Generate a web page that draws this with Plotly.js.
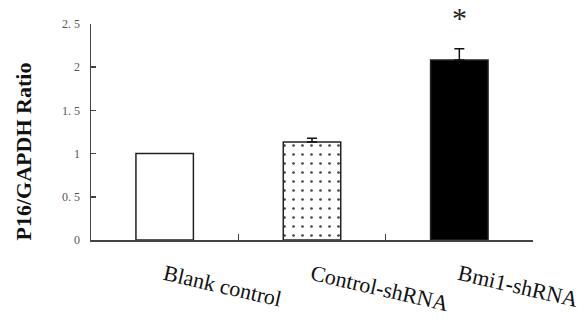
<!DOCTYPE html>
<html><head><meta charset="utf-8">
<script src="https://cdn.plot.ly/plotly-3.0.1.min.js"></script>
<style>body{margin:0;background:#fff}#c{width:587px;height:320px}</style>
</head><body><div id="c"></div>
<script>
const categories = ["Blank control", "Control-shRNA", "Bmi1-shRNA"];
const ratios = [1.0, 1.134, 2.083];
const errorsPlus = [null, 0.045, 0.13];
const tickValues = [0, 0.5, 1, 1.5, 2, 2.5];
const tickLabels = ["0", "0.\u00a05", "1", "1.\u00a05", "2", "2.\u00a05"];
const yTitle = "P16/GAPDH Ratio";
const significance = "*";

const fills = ["#ffffff", "#ffffff", "#000000"];
const patterns = ["", ".", ""];

const traces = categories.map((c, i) => {
  const marker = {color: fills[i], line: {color: "#222", width: 1.5}};
  if (patterns[i]) marker.pattern = {shape: patterns[i], size: 9, solidity: 0.07, fgcolor: "#444", bgcolor: fills[i]};
  const t = {
    type: "bar", x: [c], y: [ratios[i]], width: 0.39, marker: marker, hoverinfo: "skip"
  };
  if (errorsPlus[i] != null) {
    t.error_y = {type: "data", symmetric: false, array: [errorsPlus[i]], arrayminus: [0], color: "#111", thickness: 1.5, width: 5};
  }
  return t;
});

const layout = {
  width: 587, height: 320,
  margin: {l: 91, r: 54, t: 24, b: 80},
  paper_bgcolor: "#fff", plot_bgcolor: "#fff",
  showlegend: false,
  barmode: "overlay",
  xaxis: {
    type: "category",
    categoryarray: categories, categoryorder: "array",
    range: [-0.5, 2.5],
    showline: true, linecolor: "#444", linewidth: 1.5,
    ticks: "inside", ticklen: 6, tickwidth: 1.5, tickcolor: "#444",
    tickson: "boundaries",
    tickangle: 13,
    ticklabelstandoff: 12,
    tickfont: {family: "Liberation Serif", size: 22, color: "#111"},
    showgrid: false, zeroline: false
  },
  yaxis: {
    range: [0, 2.5],
    showline: true, linecolor: "#444", linewidth: 1.5,
    ticks: "inside", ticklen: 5, tickwidth: 1.5, tickcolor: "#444",
    tickvals: tickValues, ticktext: tickLabels,
    tickfont: {family: "Liberation Serif", size: 12, color: "#555"},
    ticklabelstandoff: 7,
    showgrid: false, zeroline: false
  },
  annotations: [{
    x: categories[2], y: 2.5, xref: "x", yref: "y", yanchor: "bottom",
    text: significance, showarrow: false, yshift: -12,
    font: {family: "Liberation Serif", size: 30, color: "#222"}
  }, {
    x: 0, y: 0.41, xref: "paper", yref: "paper", xanchor: "center", yanchor: "middle",
    xshift: -68, textangle: -90, showarrow: false,
    text: "<b>" + yTitle + "</b>",
    font: {family: "Liberation Serif", size: 22, color: "#111"}
  }]
};
Plotly.newPlot("c", traces, layout, {staticPlot: true, displayModeBar: false});
</script></body></html>
